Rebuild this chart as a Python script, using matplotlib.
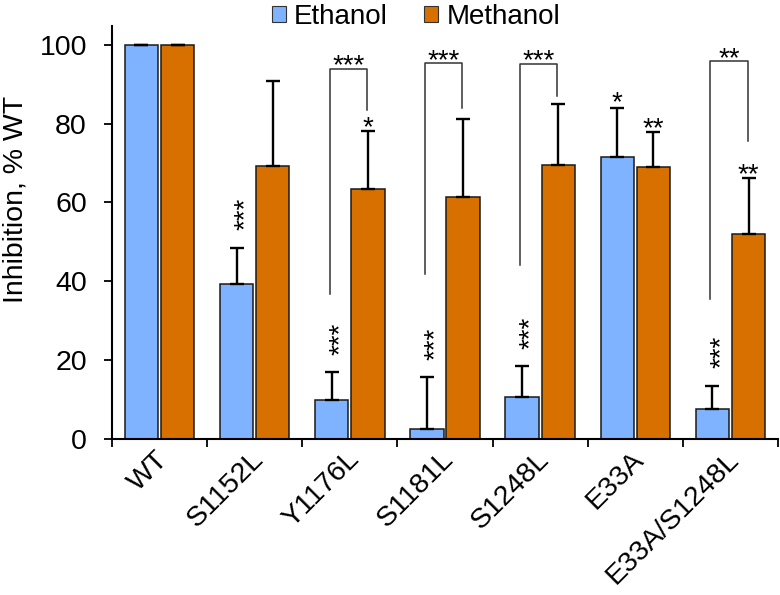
import matplotlib
matplotlib.use('Agg')
import matplotlib.pyplot as plt
import numpy as np
import matplotlib.transforms as mtransforms
from matplotlib.patches import Rectangle
from matplotlib.legend_handler import HandlerPatch

plt.rcParams['font.family'] = ['Liberation Sans', 'DejaVu Sans']

categories = ['WT', 'S1152L', 'Y1176L', 'S1181L', 'S1248L', 'E33A', 'E33A/S1248L']
ethanol = [100, 39.3, 9.8, 2.5, 10.6, 71.6, 7.6]
ethanol_err = [0, 9.2, 7.1, 13.2, 7.8, 12.4, 5.9]
methanol = [100, 69.3, 63.5, 61.5, 69.6, 69.0, 52.1]
methanol_err = [0, 21.6, 14.6, 19.6, 15.5, 8.9, 14.0]

ethanol_stars = ['', '***', '***', '***', '***', '*', '***']
ethanol_vertical = [False, True, True, True, True, False, True]
methanol_stars = ['', '', '*', '', '', '**', '**']

bracket_idx = [2, 3, 4, 6]
bracket_labels = ['***', '***', '***', '**']
bracket_top = [93.9, 95.3, 95.1, 95.8]
bracket_left_end = [36.7, 41.8, 44.1, 35.4]
bracket_right_end = [83.5, 84.0, 87.1, 75.6]

blue = '#80B3FF'
orange = '#D87000'

fig = plt.figure(figsize=(7.8, 5.95), dpi=100)
ax = fig.add_axes([112/780, 1 - 438.7/595, 666/780, (438.7 - 26)/595])

x = np.arange(len(categories))
w = 0.35
off = 0.19
ekw = dict(elinewidth=1.7, capthick=1.7, ecolor='black')
ax.bar(x - off, ethanol, w, color=blue, edgecolor='#1a1a1a', linewidth=1.1,
       yerr=[np.zeros(len(x)), ethanol_err], capsize=5, error_kw=ekw, label='Ethanol', zorder=2)
ax.bar(x + off, methanol, w, color=orange, edgecolor='#1a1a1a', linewidth=1.1,
       yerr=[np.zeros(len(x)), methanol_err], capsize=5, error_kw=ekw, label='Methanol', zorder=2)

SZ = 20.5
STAR = 20

def stars(xc, yc, s, vertical=False):
    c = 0.58 * STAR
    if vertical:
        tr = mtransforms.offset_copy(ax.transData, fig=fig, x=c, y=0, units='points')
        ax.text(xc, yc, s, rotation=90, rotation_mode='anchor', ha='center', va='baseline',
                transform=tr, fontsize=STAR)
    else:
        tr = mtransforms.offset_copy(ax.transData, fig=fig, x=0, y=-c, units='points')
        ax.text(xc, yc, s, ha='center', va='baseline', transform=tr, fontsize=STAR)

for i in range(len(x)):
    top_e = ethanol[i] + ethanol_err[i]
    top_m = methanol[i] + methanol_err[i]
    if ethanol_stars[i]:
        if ethanol_vertical[i]:
            stars(x[i] - off, top_e + 8.5, ethanol_stars[i], vertical=True)
        else:
            stars(x[i] - off, top_e + 3.4, ethanol_stars[i])
    if methanol_stars[i]:
        stars(x[i] + off, top_m + 3.0, methanol_stars[i])

for k, i in enumerate(bracket_idx):
    xl = x[i] - off - 0.02
    xr = x[i] + off - 0.01
    ax.plot([xl, xl, xr, xr], [bracket_left_end[k], bracket_top[k], bracket_top[k], bracket_right_end[k]],
            color='#333333', lw=1.1, zorder=3)
    stars((xl + xr) / 2, bracket_top[k] + 3.0, bracket_labels[k])

ax.set_xlim(-0.5, len(x) - 0.5)
ax.set_ylim(0, 104.8)
ax.set_yticks([0, 20, 40, 60, 80, 100])
ax.tick_params(axis='y', direction='out', length=6, width=1.3, labelsize=SZ, pad=12)

ax.set_xticks(np.arange(len(x) + 1) - 0.5)
ax.set_xticklabels([])
ax.tick_params(axis='x', which='major', direction='out', length=6, width=1.3)
ax.set_xticks(x, minor=True)
ax.set_xticklabels(categories, minor=True, rotation=45, ha='right', va='center',
                   rotation_mode='anchor', fontsize=SZ)
ax.tick_params(axis='x', which='minor', length=0, pad=12)
shift = mtransforms.ScaledTranslation(5/100, 0, fig.dpi_scale_trans)
for lab in ax.get_xticklabels(minor=True):
    lab.set_transform(lab.get_transform() + shift)

for s in ['top', 'right']:
    ax.spines[s].set_visible(False)
for s in ['left', 'bottom']:
    ax.spines[s].set_linewidth(1.5)

ax.set_ylabel('Inhibition, % WT', fontsize=SZ)
ax.yaxis.set_label_coords(-0.126, 0.579)


def make_square(legend, orig_handle, xdescent, ydescent, width, height, fontsize):
    side = width * 0.9
    return Rectangle((-xdescent, -ydescent + height - side * 0.15), side, side * 0.85)

leg = fig.legend(loc='upper center', bbox_to_anchor=(416/780, 1.035), ncol=2, frameon=False,
                 fontsize=20, handlelength=0.5, handleheight=0.5, handletextpad=0.3,
                 columnspacing=1.3,
                 handler_map={Rectangle: HandlerPatch(patch_func=make_square)})
for h in leg.legend_handles:
    h.set_edgecolor('#333333')
    h.set_linewidth(0.8)

fig.savefig('out.png', dpi=100)
